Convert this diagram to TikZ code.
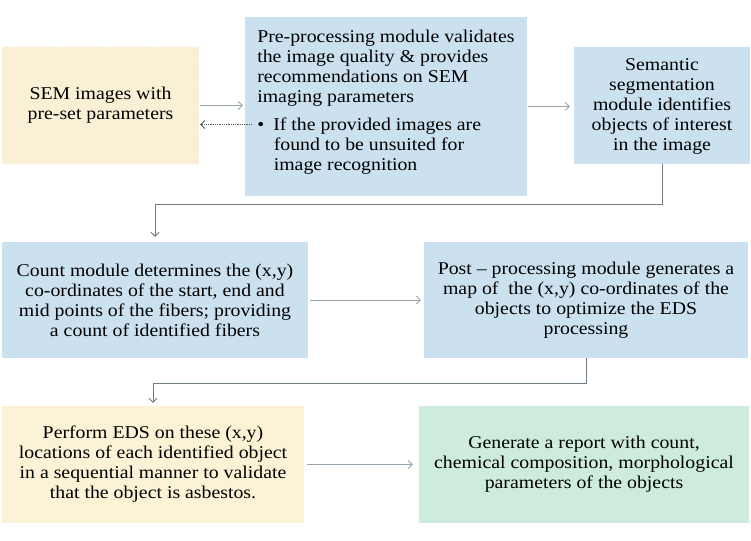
\documentclass[tikz,border=0pt]{standalone}
\usepackage{fontspec}
\setmainfont{Liberation Serif}[FakeStretch=1.1]
\usetikzlibrary{arrows.meta,calc,patterns}
\definecolor{boxblue}{RGB}{204,225,239}
\definecolor{boxcream}{RGB}{251,241,212}
\definecolor{boxcream2}{RGB}{252,242,214}
\definecolor{boxgreen}{RGB}{205,236,221}
\definecolor{arrgray}{RGB}{150,164,174}
\definecolor{congray}{RGB}{110,123,130}
\definecolor{backgray}{RGB}{80,90,96}
\tikzset{
  box/.style={draw=none, inner sep=0pt, align=center,
    font=\fontsize{18}{20}\selectfont},
  arr/.style={draw=arrgray, line width=0.9pt, -{Straight Barb[length=4pt,width=8pt]}},
  con/.style={draw=congray, line width=0.9pt, -{Straight Barb[length=4pt,width=8pt]}},
  backarr/.style={draw=backgray, line width=0.8pt, densely dotted, -{Straight Barb[length=4pt,width=8pt]}}
}
\begin{document}
\begin{tikzpicture}[x=1pt,y=-1pt]
\useasboundingbox (0,0) rectangle (751,540);

% boxes
\node[box, fill=boxcream, postaction={pattern=crosshatch dots, pattern color=boxcream!70!brown!40}, minimum width=197pt, minimum height=117pt] (b1) at (100.5,105.5)
  {SEM images with\\pre-set parameters};
\node[box, fill=boxblue, align=left, text depth=12pt, minimum width=282pt, minimum height=179pt] (b2) at (386,106.5)
  {Pre-processing module validates\\the image quality \& provides\\recommendations on SEM\\imaging parameters\\[8pt]
   \textbullet\hspace{9pt}If the provided images are\\\hspace{16.5pt}found to be unsuited for\\\hspace{16.5pt}image recognition};
\node[box, fill=boxblue, text depth=1pt, minimum width=176pt, minimum height=117pt] (b3) at (662,105.5)
  {Semantic\\segmentation\\module identifies\\objects of interest\\in the image};
\node[box, fill=boxblue, minimum width=306pt, minimum height=116pt] (b4) at (155,300)
  {Count module determines the (x,y)\\co-ordinates of the start, end and\\mid points of the fibers; providing\\a count of identified fibers};
\node[box, fill=boxblue, minimum width=324pt, minimum height=116pt] (b5) at (586,300)
  {Post -- processing module generates a\\map of~ the (x,y) co-ordinates of the\\objects to optimize the EDS\\processing};
\node[box, fill=boxcream2, minimum width=302pt, minimum height=117pt] (b6) at (153,464.5)
  {Perform EDS on these (x,y)\\locations of each identified object\\in a sequential manner to validate\\that the object is asbestos.};
\node[box, fill=boxgreen, minimum width=330pt, minimum height=117pt] (b7) at (584,464.5)
  {Generate a report with count,\\chemical composition, morphological\\parameters of the objects};

% connectors
\coordinate (bk) at ($(b2.west)+(7,18)$);
\draw[arr, shorten <=1pt, shorten >=2pt] (b1.east) -- (b1.east -| b2.west);
\draw[backarr, shorten >=1pt] (bk) -- (bk -| b1.east);
\draw[arr, shorten <=1pt, shorten >=4pt] (b2.east) -- (b2.east -| b3.west);
\draw[con, shorten >=5pt] (b3.south) -- ++(0,40) -| (b4.north);
\draw[arr, shorten <=2pt, shorten >=3pt] (b4.east) -- (b4.east -| b5.west);
\draw[con, shorten >=3pt] (b5.south) -- ++(0,25) -| (b6.north);
\draw[arr, shorten <=3pt, shorten >=6pt] (b6.east) -- (b6.east -| b7.west);
\end{tikzpicture}
\end{document}
